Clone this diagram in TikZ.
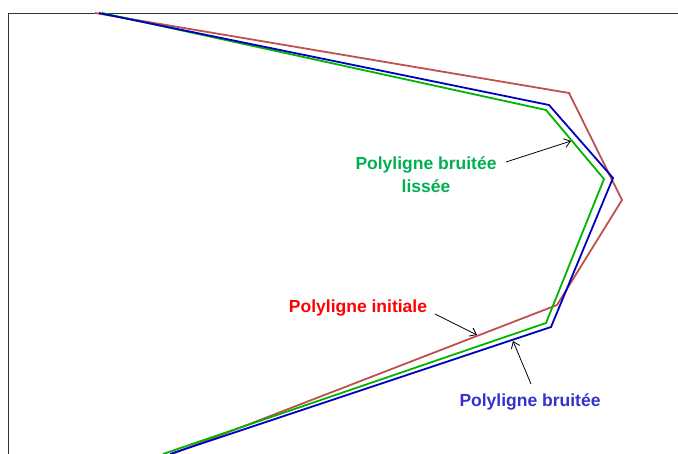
\documentclass[tikz,border=0pt]{standalone}
\usepackage{fontspec}
\setmainfont{Liberation Sans}
\usetikzlibrary{arrows.meta}
\definecolor{lineRed}{HTML}{C0504D}
\definecolor{lineBlue}{HTML}{0000C0}
\definecolor{lineGreen}{HTML}{00B400}
\definecolor{txtGreen}{HTML}{00B050}
\definecolor{txtRed}{HTML}{FF0000}
\definecolor{txtBlue}{HTML}{3333CC}

\begin{document}
\begin{tikzpicture}[x=1pt,y=-1pt,>={Straight Barb[length=6pt,width=9pt]},
  poly/.style={line width=1.8pt,line join=miter},
  lbl/.style={font=\fontsize{17.5}{23}\selectfont\bfseries,align=center,inner sep=0pt},
  pointer/.style={->,line width=0.8pt}]
  \useasboundingbox (0,0) rectangle (678,454);
  % frame
  \draw[line width=0.9pt,black!80] (8,454) -- (8,13) -- (678,13);
  % polylines
  \draw[poly,lineRed] (95,13) -- (569,93) -- (622,200) -- (557,305) -- (172,454);
  \draw[poly,lineGreen] (102,13) -- (546,110) -- (604,179) -- (546,323) -- (163,454);
  \draw[poly,lineBlue] (99,13) -- (549,105) -- (613,178) -- (551,327) -- (170,454);
  % labels
  \node[lbl,txtGreen] (lisse) at (426,175) {Polyligne bruitée\\lissée};
  \node[lbl,txtRed] (init) at (358,308) {Polyligne initiale};
  \node[lbl,txtBlue] (bruit) at (530,402) {Polyligne bruitée};
  % pointer ends
  \coordinate (lisseTail) at (506,162);
  \coordinate (lisseTip) at (571,141);
  \coordinate (initTail) at (435,314);
  \coordinate (initTip) at (477,335);
  \coordinate (bruitTail) at (531,384);
  \coordinate (bruitTip) at (513,341);
  % pointers
  \draw[pointer] (lisseTail) -- (lisseTip);
  \draw[pointer] (initTail) -- (initTip);
  \draw[pointer] (bruitTail) -- (bruitTip);
\end{tikzpicture}
\end{document}
